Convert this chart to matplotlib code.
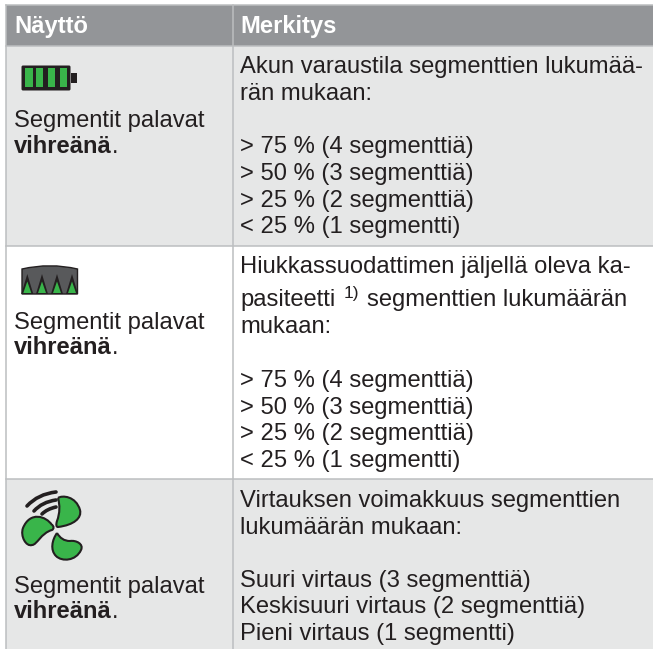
import matplotlib
matplotlib.use("Agg")
import matplotlib.pyplot as plt
from matplotlib.patches import Rectangle, PathPatch, Polygon, FancyBboxPatch
from matplotlib.path import Path

plt.rcParams['font.family'] = ['Liberation Sans', 'DejaVu Sans']

W, H = 653, 649
headers = ["Näyttö", "Merkitys"]
left_label = "Segmentit palavat"
left_bold = "vihreänä"

row1_lines = ["Akun varaustila segmenttien lukumää-", "rän mukaan:",
              "> 75 % (4 segmenttiä)", "> 50 % (3 segmenttiä)",
              "> 25 % (2 segmenttiä)", "< 25 % (1 segmentti)"]
row2_lines = ["Hiukkassuodattimen jäljellä oleva ka-", "mukaan:",
              "> 75 % (4 segmenttiä)", "> 50 % (3 segmenttiä)",
              "> 25 % (2 segmenttiä)", "< 25 % (1 segmentti)"]
row3_lines = ["Virtauksen voimakkuus segmenttien", "lukumäärän mukaan:",
              "Suuri virtaus (3 segmenttiä)", "Keskisuuri virtaus (2 segmenttiä)",
              "Pieni virtaus (1 segmentti)"]

GRID = "#bcbec0"
HEAD = "#939598"
LIGHT = "#e6e7e7"
GREEN = "#39b54a"
DARK = "#231f20"
FS = 17.1

fig = plt.figure(figsize=(W / 100, H / 100), dpi=100)
ax = fig.add_axes([0, 0, 1, 1])
ax.set_xlim(0, W)
ax.set_ylim(H, 0)
ax.axis("off")

x0, xm, x1 = 5.5, 232.5, 653
ys = [4.5, 46, 246, 478.5, 649]
fills = [HEAD, LIGHT, "white", LIGHT]
for i, c in enumerate(fills):
    ax.add_patch(Rectangle((x0, ys[i]), x1 - x0, ys[i + 1] - ys[i], fc=c, ec="none"))
for y in ys[:-1]:
    ax.plot([x0, x1], [y, y], color=GRID, lw=1.1)
for x in (x0, xm):
    ax.plot([x, x], [ys[0], ys[-1]], color=GRID, lw=1.1)


def txt(x, y, s, **kw):
    return ax.text(x, y, s, fontsize=FS, color=DARK, va="baseline", ha="left", **kw)


ax.text(14, 32.5, headers[0], fontsize=FS, color="white", fontweight="bold")
ax.text(240.5, 32.5, headers[1], fontsize=FS, color="white", fontweight="bold")


def left_cell(y1, y2):
    txt(14, y1, left_label)
    t = txt(14, y2, left_bold, fontweight="bold")
    bb = t.get_window_extent(fig.canvas.get_renderer())
    txt(bb.x1, y2, ".")


def right_cell(baselines, lines):
    for y, s in zip(baselines, lines):
        txt(240.5, y, s)


left_cell(127.5, 153)
left_cell(329, 354.5)
left_cell(592.5, 618.3)
right_cell([73, 100, 153, 180, 207, 233.5], row1_lines)
right_cell([273, 333, 387, 414, 440, 467], row2_lines)
txt(240.5, 306, "pasiteetti")
ax.text(344, 297.7, "1)", fontsize=12.5, color=DARK)
txt(367, 306, "segmenttien lukumäärän")
right_cell([507, 534, 587, 613, 640], row3_lines)

# akkukuvake
ax.add_patch(FancyBboxPatch((21.5, 65.5), 49, 25, boxstyle="round,pad=0,rounding_size=1.5", fc=DARK, ec="none"))
ax.add_patch(Rectangle((70.5, 72.7), 6.2, 10, fc=DARK, ec="none"))
for x in (25.3, 36, 48, 60):
    ax.add_patch(Rectangle((x, 68.3), 7.2, 19, fc=GREEN, ec="none"))

# suodatinkuvake
verts = [(22, 294), (22, 269), (50, 262.5), (77.5, 269), (77.5, 294), (22, 294)]
codes = [Path.MOVETO, Path.LINETO, Path.CURVE3, Path.CURVE3, Path.LINETO, Path.CLOSEPOLY]
ax.add_patch(PathPatch(Path(verts, codes), fc="#58595b", ec=DARK, lw=1))
for x in (27.3, 42, 57, 72):
    ax.add_patch(Polygon([(x - 6, 294), (x + 6, 294), (x, 274)], fc=DARK, ec="none"))
    ax.add_patch(Polygon([(x - 4, 293), (x + 4, 293), (x, 281.5)], fc=GREEN, ec="none"))

# tuuletinkuvake
C3, C4 = Path.CURVE3, Path.CURVE4
blades = [
    [(58, 498), (62, 495), (76, 496), (80, 510), (82, 518), (74, 525), (58, 527),
     (56, 527), (56, 524), (57, 521), (60, 513), (60, 505), (58, 498)],
    [(52, 525), (46, 516), (30, 511), (23, 528), (20, 536), (26, 547), (32, 545),
     (37, 545), (41, 533), (52, 530), (54, 529), (54, 526), (52, 525)],
    [(57, 533), (52, 540), (50, 550), (56, 556), (62, 562), (76, 561), (81, 550),
     (84, 544), (76, 540), (70, 541), (64, 541), (60, 538), (57, 533)],
]
for b in blades:
    codes = [Path.MOVETO] + [C4] * 12
    ax.add_patch(PathPatch(Path(b, codes), fc=GREEN, ec=DARK, lw=1.5))
arcs = [[(27, 506), (38, 494), (56, 492)], [(34, 511), (42, 502), (56, 500)], [(42, 514), (47, 509), (56, 507)]]
for a in arcs:
    ax.add_patch(PathPatch(Path(a, [Path.MOVETO, C3, C3]), fc="none", ec=DARK, lw=2.6, capstyle="round"))

fig.savefig("out.png", dpi=100)
